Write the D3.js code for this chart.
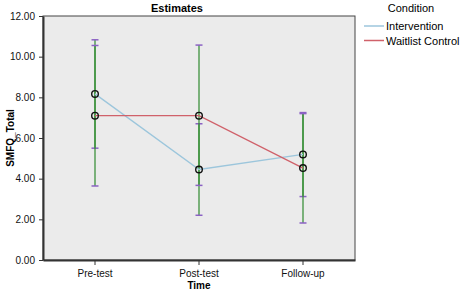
<!DOCTYPE html>
<html>
<head>
<meta charset="utf-8">
<script src="https://cdn.jsdelivr.net/npm/d3@7"></script>
<style>
  body { margin: 0; background: #fff; }
  svg { font-family: "Liberation Sans", Arial, sans-serif; }
</style>
</head>
<body>
<div id="chart"></div>
<script>
// datos
var times = ["Pre-test", "Post-test", "Follow-up"];
var conditions = ["Intervention", "Waitlist Control"];
var intervMean = [8.17, 4.45, 5.19];
var intervLow = [5.50, 2.20, 3.12];
var intervHigh = [10.83, 6.70, 7.25];
var waitMean = [7.10, 7.10, 4.52];
var waitLow = [3.64, 3.67, 1.82];
var waitHigh = [10.55, 10.57, 7.20];
var yTicks = [0, 2, 4, 6, 8, 10, 12];

var margin = {top: 16, right: 106, bottom: 31, left: 43},
    width = 461 - margin.left - margin.right,
    height = 291 - margin.top - margin.bottom;

var x = d3.scaleBand().domain(times).range([0, width]).padding(0);
var y = d3.scaleLinear().domain([0, 12]).range([height, 0]);
var color = d3.scaleOrdinal().domain(conditions).range(["#9cc6dc", "#d0616a"]);

var svg = d3.select("#chart").append("svg")
    .attr("width", 461)
    .attr("height", 291);

var g = svg.append("g")
    .attr("transform", "translate(" + margin.left + "," + margin.top + ")");

// fondo del área de trazado
g.append("rect")
    .attr("width", width)
    .attr("height", height)
    .attr("fill", "#ebebeb")
    .attr("stroke", "#444")
    .attr("stroke-width", 1);

var series = [
  {name: "Intervention", mean: intervMean, low: intervLow, high: intervHigh},
  {name: "Waitlist Control", mean: waitMean, low: waitLow, high: waitHigh}
];

var cx = function(i) { return x(times[i]) + x.bandwidth() / 2; };

// barras de error
series.forEach(function(s) {
  var eb = g.append("g");
  s.mean.forEach(function(m, i) {
    eb.append("line")
      .attr("x1", cx(i)).attr("x2", cx(i))
      .attr("y1", y(s.low[i])).attr("y2", y(s.high[i]))
      .attr("stroke", "#2f8a2f").attr("stroke-opacity", 0.6)
      .attr("stroke-width", 2);
    [s.low[i], s.high[i]].forEach(function(v) {
      eb.append("line")
        .attr("x1", cx(i) - 3.5).attr("x2", cx(i) + 3.5)
        .attr("y1", y(v)).attr("y2", y(v))
        .attr("stroke", "#8b62c4").attr("stroke-width", 1.5);
    });
  });
});

// líneas
var line = d3.line()
    .x(function(d, i) { return cx(i); })
    .y(function(d) { return y(d); });

series.forEach(function(s) {
  g.append("path")
    .datum(s.mean)
    .attr("d", line)
    .attr("fill", "none")
    .attr("stroke", color(s.name))
    .attr("stroke-width", 1.3);
});

// puntos
series.forEach(function(s) {
  g.selectAll(null)
    .data(s.mean)
    .enter().append("circle")
    .attr("cx", function(d, i) { return cx(i); })
    .attr("cy", function(d) { return y(d); })
    .attr("r", 3.3)
    .attr("fill", "none")
    .attr("stroke", "#111")
    .attr("stroke-width", 1.4);
});

// ejes
var yAxis = g.append("g")
    .call(d3.axisLeft(y).tickValues(yTicks).tickFormat(d3.format(".2f")).tickSize(4).tickSizeOuter(0));
yAxis.select(".domain").attr("stroke", "#333").attr("stroke-width", 2);
yAxis.selectAll(".tick line").attr("stroke", "#333");
yAxis.selectAll("text").style("font-size", "10px").attr("fill", "#111").attr("dx", "-1");

var xAxis = g.append("g")
    .attr("transform", "translate(0," + height + ")")
    .call(d3.axisBottom(x).tickSize(5).tickSizeOuter(0));
xAxis.select(".domain").attr("stroke", "#333").attr("stroke-width", 2);
xAxis.selectAll(".tick line").attr("stroke", "#333");
xAxis.selectAll("text").style("font-size", "10px").attr("fill", "#111").attr("dy", "0.9em");

// títulos
svg.append("text")
    .attr("x", 177).attr("y", 12)
    .attr("text-anchor", "middle")
    .style("font-size", "11px").style("font-weight", "bold")
    .text("Estimates");

svg.append("text")
    .attr("transform", "translate(14," + (margin.top + height / 2) + ") rotate(-90)")
    .attr("text-anchor", "middle")
    .style("font-size", "10px").style("font-weight", "bold")
    .text("SMFQ_Total");

svg.append("text")
    .attr("x", margin.left + width / 2).attr("y", 289)
    .attr("text-anchor", "middle")
    .style("font-size", "10px").style("font-weight", "bold")
    .text("Time");

// leyenda
var legend = svg.append("g").attr("transform", "translate(364,0)");
legend.append("text")
    .attr("x", 47).attr("y", 12)
    .attr("text-anchor", "middle")
    .style("font-size", "11px")
    .text("Condition");

conditions.forEach(function(c, i) {
  var ly = 26 + i * 14.5;
  legend.append("line")
    .attr("x1", 0).attr("x2", 20)
    .attr("y1", ly).attr("y2", ly)
    .attr("stroke", color(c)).attr("stroke-width", 1.5);
  legend.append("text")
    .attr("x", 22).attr("y", ly + 4)
    .style("font-size", "11px")
    .text(c);
});
</script>
</body>
</html>
